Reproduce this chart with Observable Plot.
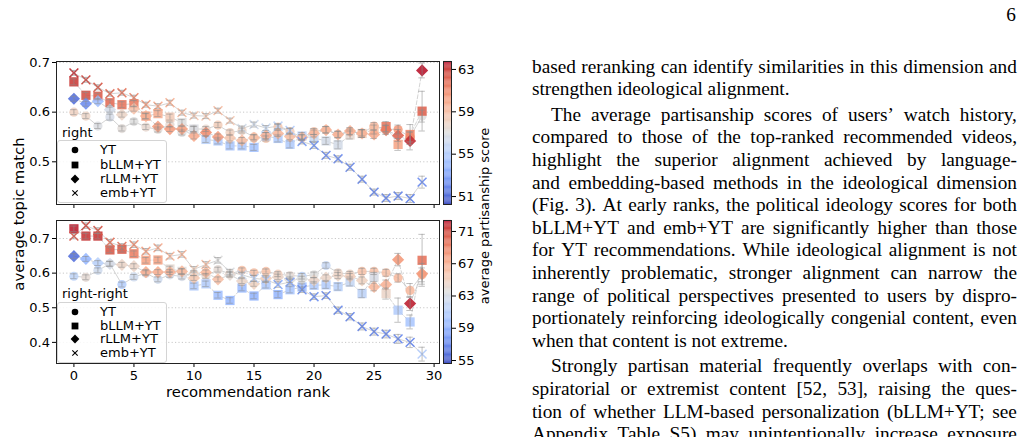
<!DOCTYPE html>
<html><head><meta charset="utf-8">
<script src="https://cdn.jsdelivr.net/npm/d3@7"></script>
<script src="https://cdn.jsdelivr.net/npm/@observablehq/plot@0.6"></script>
<style>
html,body{margin:0;padding:0;background:#fff;width:1028px;height:437px;overflow:hidden;}
#page{position:relative;width:1028px;height:437px;overflow:hidden;background:#fff;}
.abs{position:absolute;}
.dj{font-family:"DejaVu Sans";color:#000;line-height:1;white-space:nowrap;}
.rot{position:absolute;white-space:nowrap;transform:translate(-50%,-50%) rotate(-90deg);font-family:"DejaVu Sans";line-height:1;color:#000;}
.legend{position:absolute;border:1px solid #d4d4d4;border-radius:3px;background:rgba(255,255,255,0.85);box-sizing:border-box;}
.lrow{position:absolute;left:0;width:100%;height:0;}
.lrow svg{position:absolute;left:11px;top:-6px;}
.lrow span{position:absolute;left:42px;top:-7px;font:13px "DejaVu Sans";line-height:1;color:#000;white-space:nowrap;}
.tx{position:absolute;left:532px;width:485px;font-family:"Liberation Serif";font-size:19.3px;line-height:23px;height:23px;color:#000;white-space:nowrap;}
.tx.j{display:flex;justify-content:space-between;}
</style></head>
<body><div id="page"></div>
<script>
// ---------------- data ----------------
const rank = [0,1,2,3,4,5,6,7,8,9,10,11,12,13,14,15,16,17,18,19,20,21,22,23,24,25,26,27,28,29];
const seriesNames = ["YT","bLLM+YT","rLLM+YT","emb+YT"];

// panel "right": average topic match
const rightYT   = [0.600,0.592,0.572,0.590,0.567,0.581,0.570,0.565,0.575,0.559,0.566,0.566,0.574,0.559,0.563,0.550,0.547,0.570,0.561,0.549,0.561,0.565,0.555,0.560,0.558,0.572,0.566,0.565,0.550,0.592];
const rightBLLM = [0.661,0.634,0.632,0.619,0.615,0.617,0.592,0.597,0.590,0.579,0.566,0.545,0.542,0.532,0.532,0.529,0.552,0.547,0.535,0.552,0.548,0.542,0.534,0.554,0.557,0.565,0.571,0.535,0.555,0.602];
const rightRLLM = [0.627,0.617,0.622,0.605,0.595,0.607,0.592,0.571,0.566,0.566,0.552,0.559,0.550,0.548,0.543,0.548,0.553,0.557,0.551,0.549,0.557,0.564,0.555,0.562,0.557,0.555,0.564,0.553,0.542,0.684];
const rightEMB  = [0.679,0.665,0.650,0.637,0.639,0.629,0.615,0.612,0.619,0.599,0.593,0.592,0.603,0.583,0.567,0.575,0.568,0.572,0.563,0.541,0.533,0.513,0.506,0.489,0.465,0.439,0.427,0.431,0.426,0.459];
// panel "right": average partisanship score (marker colour)
const rightYTp   = [58,57.8,56.8,56.6,57.2,57,57.5,57.2,57.5,57,57.5,57.5,58.3,58,57.8,58.5,58.5,58.5,58.3,58.5,58.5,57.8,58.2,58.5,58.5,59.3,59.5,60.5,60.5,57];
const rightBLLMp = [63,62.5,62.2,61.8,61.5,61.3,60.3,59.7,58.3,57,56.8,55.3,55,54.8,54.8,54.5,55.5,55,55,55.5,56,56.5,56.5,57.5,58.5,59,61.5,60,61,62];
const rightRLLMp = [51.3,52.3,54.3,56.5,57.8,58.8,59.5,60.3,60.3,60.2,59.8,60.8,60.3,58.6,59,59,59.5,59.3,59,59.2,59.3,59.5,59.5,59.7,59.5,59.8,61.3,62,63.3,63.6];
const rightEMBp  = [63.3,62.8,62.3,61.8,61.5,61,60.3,59.8,59.5,59,58.5,58.5,59,58.5,56.5,56.3,56,55.5,55,53,52.5,52.3,52.3,52.2,52.2,52,52,52,52,52.3];
// panel "right": error half-widths
const rightYTe   = [0.005,0.005,0.005,0.006,0.005,0.005,0.005,0.005,0.005,0.005,0.005,0.005,0.005,0.005,0.005,0.005,0.005,0.005,0.006,0.005,0.006,0.006,0.006,0.006,0.006,0.007,0.008,0.009,0.010,0.012];
const rightBLLMe = [0.006,0.006,0.006,0.006,0.006,0.006,0.006,0.006,0.006,0.006,0.006,0.006,0.006,0.006,0.006,0.006,0.007,0.007,0.007,0.007,0.007,0.007,0.008,0.008,0.008,0.009,0.010,0.012,0.020,0.040];
const rightRLLMe = [0.005,0.005,0.005,0.005,0.005,0.005,0.005,0.005,0.005,0.005,0.006,0.006,0.006,0.006,0.006,0.006,0.006,0.006,0.006,0.006,0.007,0.007,0.007,0.007,0.008,0.008,0.009,0.012,0.018,0.015];
const rightEMBe  = [0.005,0.005,0.005,0.005,0.005,0.005,0.005,0.005,0.005,0.005,0.005,0.005,0.005,0.005,0.005,0.005,0.005,0.005,0.005,0.005,0.006,0.006,0.006,0.006,0.006,0.006,0.007,0.007,0.008,0.012];

// panel "right-right"
const rrYT   = [0.591,0.588,0.608,0.627,0.567,0.589,0.600,0.582,0.595,0.590,0.600,0.592,0.610,0.598,0.608,0.601,0.605,0.597,0.593,0.591,0.595,0.622,0.601,0.597,0.605,0.605,0.601,0.586,0.550,0.595];
const rrBLLM = [0.728,0.707,0.707,0.667,0.669,0.656,0.637,0.638,0.612,0.605,0.563,0.569,0.536,0.521,0.557,0.534,0.566,0.538,0.552,0.560,0.565,0.566,0.561,0.574,0.541,0.589,0.541,0.493,0.459,0.637];
const rrRLLM = [0.649,0.641,0.629,0.627,0.624,0.620,0.603,0.603,0.603,0.605,0.586,0.602,0.582,0.595,0.577,0.569,0.585,0.589,0.581,0.583,0.579,0.587,0.593,0.590,0.579,0.560,0.567,0.639,0.512,0.598];
const rrEMB  = [0.707,0.737,0.723,0.689,0.677,0.682,0.663,0.673,0.649,0.654,0.611,0.625,0.637,0.603,0.595,0.585,0.581,0.567,0.574,0.552,0.532,0.535,0.493,0.474,0.446,0.431,0.424,0.410,0.400,0.366];
const rrYTp   = [61.5,64,62.5,62.5,61,62.5,62.8,62.5,63,63,63.5,64,64,64.5,66,66,66,65,64,61.5,63.5,62,64.5,64.5,66,66,66,66.5,66.5,66.5];
const rrBLLMp = [72,71.5,71.5,70.5,70.5,69,67.5,67.5,64,63.5,60.8,61,60,59.5,59.8,59.3,60.8,59.5,60.5,60,60.8,61,61.3,62,61.5,63,64.5,61,60.5,69.5];
const rrRLLMp = [56,59.5,61.3,63,64.5,64.5,67,67,66.8,66.5,65.5,66.5,66,64,64.5,64.8,65,64.5,63.5,63.5,64.5,64.5,64.5,65,64.8,66.5,66.8,68,72,68];
const rrEMBp  = [70.5,71,70.5,69.5,69.5,68.5,67.5,67,66.5,66.5,65,66,63.5,63.3,62.5,61.5,61,59,58.5,57.5,57.5,57.3,57.2,57,57,57,57,57,57,61];
const rrYTe   = [0.007,0.007,0.007,0.007,0.007,0.007,0.007,0.007,0.007,0.007,0.007,0.007,0.007,0.007,0.007,0.007,0.007,0.007,0.008,0.008,0.008,0.008,0.008,0.008,0.009,0.009,0.010,0.012,0.020,0.020];
const rrBLLMe = [0.008,0.008,0.008,0.008,0.008,0.008,0.008,0.008,0.008,0.008,0.008,0.008,0.008,0.008,0.008,0.008,0.009,0.009,0.009,0.009,0.010,0.010,0.010,0.011,0.012,0.013,0.016,0.035,0.020,0.075];
const rrRLLMe = [0.007,0.007,0.007,0.007,0.007,0.007,0.007,0.007,0.007,0.007,0.007,0.007,0.007,0.007,0.007,0.007,0.008,0.008,0.008,0.008,0.008,0.008,0.009,0.009,0.010,0.011,0.013,0.018,0.020,0.030];
const rrEMBe  = [0.008,0.008,0.008,0.008,0.008,0.008,0.008,0.008,0.008,0.008,0.008,0.008,0.008,0.008,0.008,0.008,0.008,0.008,0.008,0.008,0.008,0.008,0.009,0.009,0.010,0.010,0.011,0.013,0.015,0.020];

// axis ticks
const xTicks = [0,5,10,15,20,25,30];
const rightYTicks = [0.5,0.6,0.7];
const rrYTicks = [0.4,0.5,0.6,0.7];
const rightCbTicks = [51,55,59,63];
const rrCbTicks = [55,59,63,67,71];

// text
const pageNumber = "6";
const paragraphs = [
  {indent:false, lines:[
    "based reranking can identify similarities in this dimension and",
    "strengthen ideological alignment."]},
  {indent:true, lines:[
    "The average partisanship scores of users’ watch history,",
    "compared to those of the top-ranked recommended videos,",
    "highlight the superior alignment achieved by language-",
    "and embedding-based methods in the ideological dimension",
    "(Fig. 3). At early ranks, the political ideology scores for both",
    "bLLM+YT and emb+YT are significantly higher than those",
    "for YT recommendations. While ideological alignment is not",
    "inherently problematic, stronger alignment can narrow the",
    "range of political perspectives presented to users by dispro-",
    "portionately reinforcing ideologically congenial content, even",
    "when that content is not extreme."]},
  {indent:true, lines:[
    "Strongly partisan material frequently overlaps with con-",
    "spiratorial or extremist content [52, 53], raising the ques-",
    "tion of whether LLM-based personalization (bLLM+YT; see",
    "Appendix Table S5) may unintentionally increase exposure"], open:true}
];

// ---------------- rendering ----------------
const coolwarm = [[59,76,192],[68,90,204],[77,104,215],[87,117,225],[98,130,234],[108,142,241],[119,154,247],[130,165,251],[141,176,254],[152,185,255],[163,194,255],[174,201,253],[184,208,249],[194,213,244],[204,217,238],[213,219,230],[221,221,221],[229,216,209],[236,211,197],[241,204,184],[245,196,173],[247,187,160],[247,177,148],[247,166,135],[244,154,123],[241,141,111],[236,127,99],[229,112,88],[222,96,77],[213,80,66],[203,62,56],[192,40,47],[180,4,38]].map(c=>`rgb(${c})`);
const interp = d3.piecewise(d3.interpolateRgb, coolwarm);

function build(vals, cols, errs){
  const out=[];
  vals.forEach((v,si)=>rank.forEach((r,i)=>out.push({s:seriesNames[si], rank:r, v:v[i], c:cols[si][i], e:errs[si][i]})));
  return out;
}
const rightData = build([rightYT,rightBLLM,rightRLLM,rightEMB],[rightYTp,rightBLLMp,rightRLLMp,rightEMBp],[rightYTe,rightBLLMe,rightRLLMe,rightEMBe]);
const rrData = build([rrYT,rrBLLM,rrRLLM,rrEMB],[rrYTp,rrBLLMp,rrRLLMp,rrEMBp],[rrYTe,rrBLLMe,rrRLLMe,rrEMBe]);

const page = document.getElementById("page");
const baseStyle = {fontFamily:"DejaVu Sans", fontSize:"13px", background:"transparent", color:"#000", overflow:"visible"};

function place(el, left, top){ el.style.position="absolute"; el.style.left=left+"px"; el.style.top=top+"px"; page.appendChild(el); }

function panel(data, yDomain, yTicks, cDomain, showXLabels, height, mt, mb){
  const by = s => data.filter(d=>d.s===s);
  const errStyle = {stroke:"#8c8c8c", strokeOpacity:0.55, strokeWidth:1, clip:true};
  const marks = [
    Plot.ruleY(yTicks, {stroke:"#c8c8c8", strokeDasharray:"1.2,2.2", strokeWidth:1}),
    Plot.line(by("YT"), {x:"rank", y:"v", stroke:"#b8b8b8", strokeOpacity:0.6, strokeWidth:1}),
    Plot.line(by("bLLM+YT"), {x:"rank", y:"v", stroke:"#b8b8b8", strokeOpacity:0.6, strokeWidth:1, strokeDasharray:"4,2"}),
    Plot.line(by("rLLM+YT"), {x:"rank", y:"v", stroke:"#b8b8b8", strokeOpacity:0.6, strokeWidth:1, strokeDasharray:"4,2"}),
    Plot.line(by("emb+YT"), {x:"rank", y:"v", stroke:"#b8b8b8", strokeOpacity:0.6, strokeWidth:1}),
    Plot.dot(by("YT"), {x:"rank", y:"v", fill:"c", symbol:"circle", r:4.6, fillOpacity:0.85, stroke:null}),
    Plot.dot(by("bLLM+YT"), {x:"rank", y:"v", fill:"c", symbol:"square", r:5.2, fillOpacity:0.88, stroke:null}),
    Plot.dot(by("rLLM+YT"), {x:"rank", y:"v", fill:"c", symbol:"diamond2", r:5.5, fillOpacity:0.88, stroke:null}),
    Plot.dot(by("emb+YT"), {x:"rank", y:"v", stroke:"c", symbol:"times", r:4.1, strokeWidth:1.5, strokeOpacity:0.92, fill:"none"}),
    Plot.ruleX(data, {x:"rank", y1:d=>d.v-d.e, y2:d=>d.v+d.e, ...errStyle}),
    Plot.ruleY(data, {y:d=>d.v-d.e, x1:d=>d.rank-0.27, x2:d=>d.rank+0.27, ...errStyle}),
    Plot.ruleY(data, {y:d=>d.v+d.e, x1:d=>d.rank-0.27, x2:d=>d.rank+0.27, ...errStyle}),
    Plot.frame({stroke:"#222", strokeWidth:1})
  ];
  return Plot.plot({
    width:440, height, marginLeft:56, marginRight:1, marginTop:mt, marginBottom:mb,
    style:baseStyle,
    x:{domain:[-1.45,30.45], ticks:xTicks, tickSize:4, tickPadding:3.5, label:null, tickFormat: showXLabels ? d3.format("d") : ()=>""},
    y:{domain:yDomain, ticks:yTicks, tickSize:4, tickPadding:2.5, label:null, tickFormat:d3.format(".1f")},
    color:{type:"linear", domain:cDomain, interpolate:interp, clamp:true},
    marks
  });
}

function colorbar(cDomain, ticks, height, mt, mb){
  const n = 160, step = (cDomain[1]-cDomain[0])/n;
  const bins = d3.range(n).map(i=>cDomain[0]+i*step);
  return Plot.plot({
    width:40, height, marginLeft:0, marginRight:32, marginTop:mt, marginBottom:mb,
    style:baseStyle,
    x:{domain:[0,1], axis:null},
    y:{domain:cDomain, ticks, axis:"right", tickSize:4, tickPadding:2.5, label:null, tickFormat:d3.format("d")},
    color:{type:"linear", domain:cDomain, interpolate:interp},
    marks:[
      Plot.rect(bins, {x1:0, x2:1, y1:d=>d, y2:d=>d+step*1.05, fill:d=>d+step/2}),
      Plot.frame({stroke:"#222", strokeWidth:1})
    ]
  });
}

place(panel(rightData, [0.414,0.702], rightYTicks, [50.25,63.75], false, 212, 61, 8), 0, 0);
place(colorbar([50.25,63.75], rightCbTicks, 212, 61, 8), 443, 0);
place(panel(rrData, [0.339,0.752], rrYTicks, [54.63,72.36], true, 178, 8, 27), 0, 212);
place(colorbar([54.63,72.36], rrCbTicks, 178, 8, 27), 443, 212);

// axis titles
function txt(cls, text, css){ const d=document.createElement("div"); d.className=cls; d.textContent=text; Object.assign(d.style, css); page.appendChild(d); return d; }
txt("rot", "average topic match", {left:"18.5px", top:"214px", fontSize:"14.8px"});
txt("rot", "average partisanship score", {left:"484px", top:"216px", fontSize:"13px"});
txt("dj abs", "recommendation rank", {left:"248px", top:"384.5px", fontSize:"14.8px", transform:"translateX(-50%)"});
txt("dj abs", "right", {left:"62px", top:"126px", fontSize:"13px"});
txt("dj abs", "right-right", {left:"62px", top:"286.5px", fontSize:"13px"});

// legends
const legendSymbols = {
  "YT":'<svg width="12" height="12"><circle cx="6" cy="6" r="3.3" fill="#000"/></svg>',
  "bLLM+YT":'<svg width="12" height="12"><rect x="2.6" y="2.6" width="6.8" height="6.8" fill="#000"/></svg>',
  "rLLM+YT":'<svg width="12" height="12"><path d="M6 1.6L10.4 6L6 10.4L1.6 6Z" fill="#000"/></svg>',
  "emb+YT":'<svg width="12" height="12"><path d="M3.3 3.3L8.7 8.7M8.7 3.3L3.3 8.7" stroke="#000" stroke-width="1.1"/></svg>'
};
function legend(left, top, w, h, rowYs){
  const box=document.createElement("div"); box.className="legend";
  Object.assign(box.style,{left:left+"px", top:top+"px", width:w+"px", height:h+"px"});
  seriesNames.forEach((s,i)=>{
    const r=document.createElement("div"); r.className="lrow"; r.style.top=rowYs[i]+"px";
    r.innerHTML=legendSymbols[s]+"<span>"+s+"</span>";
    box.appendChild(r);
  });
  page.appendChild(box);
}
legend(57, 140, 110, 63, [9,24,38,52]);
legend(57, 302, 110, 61, [9,22.5,36,49.5]);

// text column
txt("abs", pageNumber, {right:"12px", top:"3px", fontFamily:"Liberation Serif", fontSize:"19.3px", lineHeight:"23px"});
let y = 54.5;
const lineStep = 22.6, paraGap = 3;
paragraphs.forEach((p,pi)=>{
  if(pi>0) y += paraGap;
  p.lines.forEach((line,li)=>{
    const isLast = (li===p.lines.length-1) && !p.open;
    const d=document.createElement("div");
    d.className = "tx" + (isLast ? "" : " j");
    d.style.top = y+"px";
    const indent = (p.indent && li===0) ? 19 : 0;
    d.style.left = (532+indent)+"px";
    d.style.width = (485-indent)+"px";
    if(isLast){ d.textContent=line; }
    else { line.split(" ").forEach(w=>{ const s=document.createElement("span"); s.textContent=w; d.appendChild(s); }); }
    page.appendChild(d);
    y += lineStep;
  });
});
</script>
</body></html>
